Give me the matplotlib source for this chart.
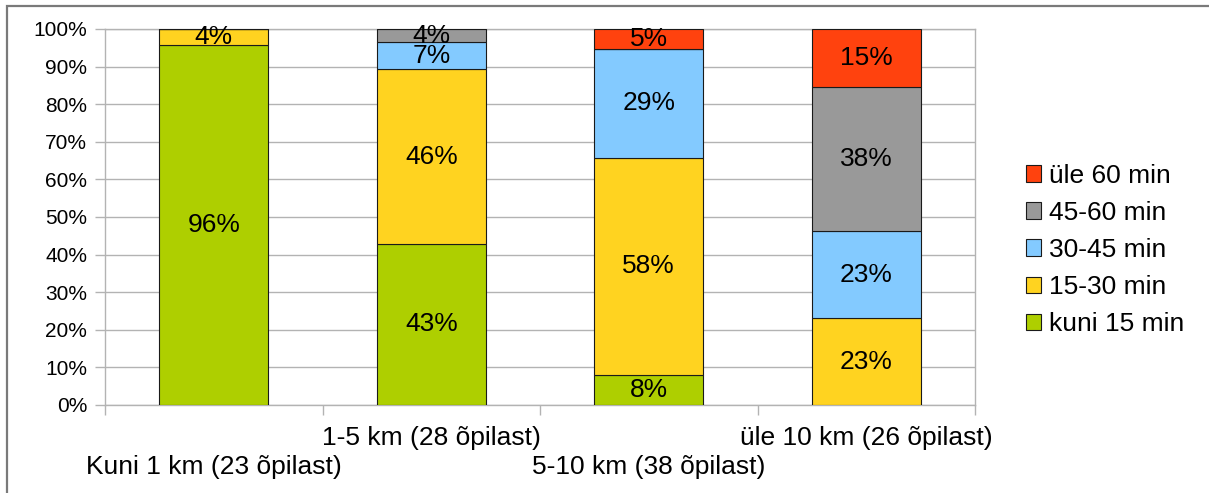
import matplotlib
matplotlib.use("Agg")
import matplotlib.pyplot as plt
import matplotlib.patches as mpatches
import numpy as np

# Distance groups and number of pupils in each
categories = ["Kuni 1 km (23 õpilast)", "1-5 km (28 õpilast)",
              "5-10 km (38 õpilast)", "üle 10 km (26 õpilast)"]
students = [23, 28, 38, 26]

# Pupils per travel-time band in each distance group
kuni_15 = [22, 12, 3, 0]
min_15_30 = [1, 13, 22, 6]
min_30_45 = [0, 2, 11, 6]
min_45_60 = [0, 1, 0, 10]
ule_60 = [0, 0, 2, 4]

series_names = ["kuni 15 min", "15-30 min", "30-45 min", "45-60 min", "üle 60 min"]
series_counts = [kuni_15, min_15_30, min_30_45, min_45_60, ule_60]
colors = ["#aecf00", "#ffd320", "#83caff", "#999999", "#ff420e"]

plt.rcParams["font.family"] = ["Liberation Sans", "DejaVu Sans"]
big = 19
small = 15

fig = plt.figure(figsize=(12.09, 4.93), dpi=100)
ax = fig.add_axes([105 / 1209, 1 - 405 / 493, 870 / 1209, 376 / 493])

x = np.arange(len(categories))
totals = np.array(students, dtype=float)
bottom = np.zeros(len(categories))
handles = []
for name, counts, col in zip(series_names, series_counts, colors):
    pct = np.array(counts) / totals * 100
    ax.bar(x, pct, width=0.5, bottom=bottom, color=col,
           edgecolor="#1a1a1a", linewidth=0.8, zorder=3)
    for xi, b, p in zip(x, bottom, pct):
        if p > 0:
            ax.text(xi, b + p / 2, f"{round(p)}%", ha="center", va="center",
                    fontsize=big, color="black", zorder=4)
    bottom += pct
    handles.append(mpatches.Patch(facecolor=col, edgecolor="#1a1a1a",
                                  linewidth=0.8, label=name))

ax.set_xlim(-0.5, len(categories) - 0.5)
ax.set_ylim(0, 100)

# Y axis: percentage grid
ax.set_yticks(np.arange(0, 101, 10))
ax.set_yticklabels([f"{v}%" for v in range(0, 101, 10)])
ax.yaxis.grid(True, color="#b3b3b3", linewidth=1.0, zorder=0)
ax.tick_params(axis="y", length=7.2, width=1.0, color="#b3b3b3",
               labelsize=small, pad=5.5, labelcolor="black")

# X axis: ticks at group boundaries, labels in two staggered rows
ax.set_xticks(np.arange(-0.5, len(categories), 1.0))
ax.set_xticklabels([])
ax.tick_params(axis="x", length=7.2, width=1.0, color="#b3b3b3")
row_y = [-0.165, -0.0878]
for i, cat in enumerate(categories):
    ax.text(i, row_y[i % 2], cat, transform=ax.get_xaxis_transform(),
            ha="center", va="center", fontsize=big, color="black")

for side in ["left", "right", "top", "bottom"]:
    ax.spines[side].set_color("#b3b3b3")
    ax.spines[side].set_linewidth(1.0)

fig.legend(handles=handles[::-1], loc="center left",
           bbox_to_anchor=(1015 / 1209, 1 - 250 / 493), frameon=False,
           fontsize=big, handlelength=0.6, handleheight=0.6,
           handletextpad=0.3, labelspacing=0.5, borderaxespad=0)

# Outer frame of the figure
fig.patches.append(mpatches.Rectangle((7 / 1209, -0.1), 1.2, 1 - 6.5 / 493 + 0.1,
                                      transform=fig.transFigure, fill=False,
                                      edgecolor="#7a7a7a", linewidth=1.6))

fig.savefig("out.png", dpi=100)
